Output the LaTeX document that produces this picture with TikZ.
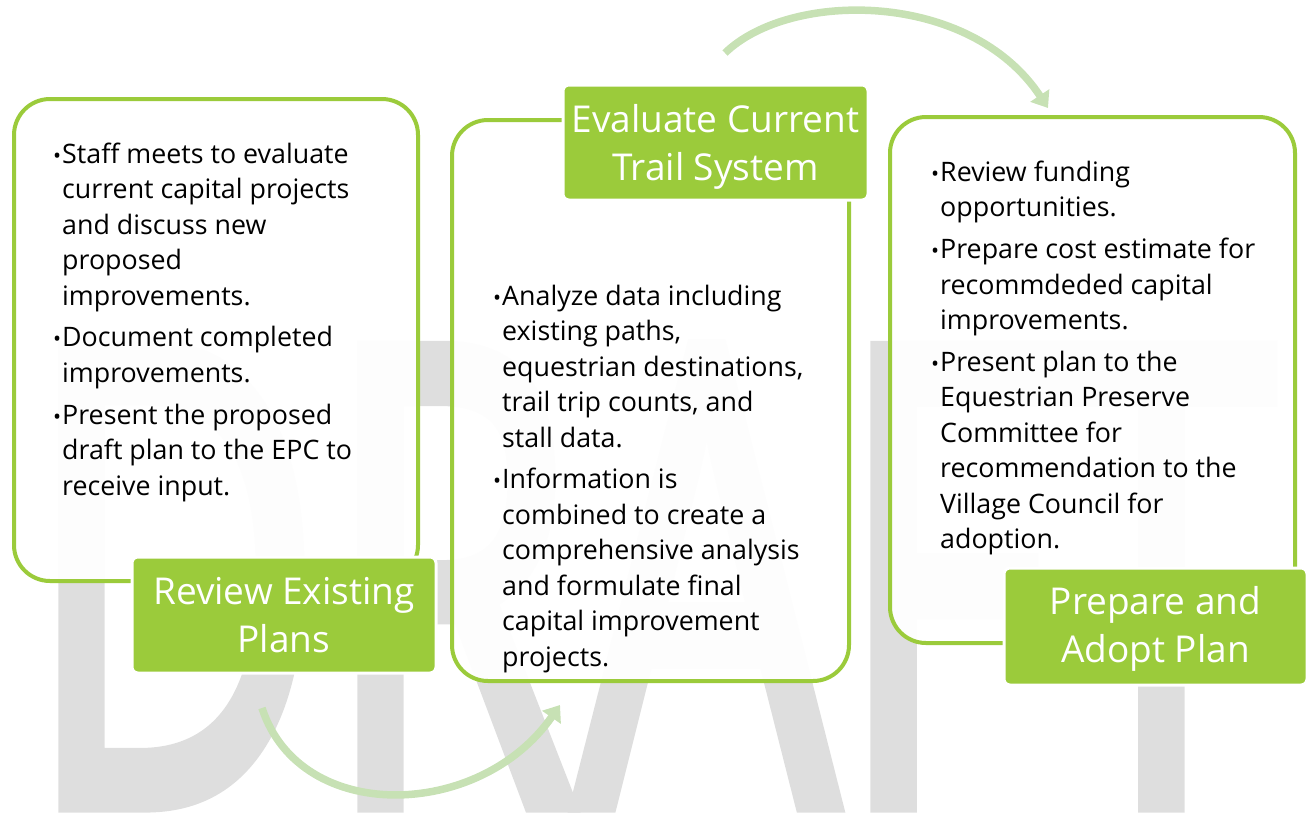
\documentclass[tikz,border=0pt]{standalone}
\usepackage{fontspec}
\setmainfont{Open Sans}
\newfontfamily\wmfont[FakeBold=3]{Open Sans}
\usetikzlibrary{arrows.meta}
\definecolor{boxgreen}{RGB}{155,203,59}
\definecolor{arrowgreen}{RGB}{199,225,180}
\definecolor{wmgray}{RGB}{222,222,222}
\tikzset{
  mainbox/.style={draw=boxgreen, line width=4pt, rounded corners=36pt, fill=white, fill opacity=0.94, draw opacity=1, inner sep=0pt},
  labelbox/.style={draw=white, line width=3pt, fill=boxgreen, rounded corners=6pt, inner sep=0pt},
  labeltext/.style={text=white, align=center, inner sep=0pt, font=\fontsize{37pt}{48pt}\selectfont},
  bodytext/.style={anchor=north west, align=left, inner sep=0pt, text=black,
    font=\fontsize{26.8pt}{35.5pt}\selectfont},
  flowarrow/.style={draw=arrowgreen, line width=7.5pt, -{Triangle[length=15pt,width=22pt]}},
  watermark/.style={text=wmgray, inner sep=0pt, anchor=base west}
}
\newcommand{\bul}{\makebox[0pt][r]{\scalebox{0.8}{•}\hspace{1pt}}}
\newcommand{\topstrut}{\rule{0pt}{25pt}}
\begin{document}
\begin{tikzpicture}[x=1pt,y=-1pt]
\useasboundingbox (0,0) rectangle (1307,815);
% watermark
\node[watermark] (wm) at (24,803) {\scalebox{0.647}[1]{\wmfont\fontsize{634pt}{634pt}\selectfont DRAFT}};
% connectors
\coordinate (a1s) at (262,708);
\coordinate (a1e) at (560,705);
\coordinate (a2s) at (725,53);
\coordinate (a2e) at (1048,108);
\draw[flowarrow] (a1s) .. controls (300,825) and (480,820) .. (a1e);
\draw[flowarrow] (a2s) .. controls (790,-10) and (970,-10) .. (a2e);
% main boxes
\node[mainbox, minimum width=404pt, minimum height=482pt] (b1) at (216,340) {};
\node[mainbox, minimum width=397pt, minimum height=561pt] (b2) at (650.5,400.5) {};
\node[mainbox, minimum width=405pt, minimum height=526pt] (b3) at (1092.5,380) {};
% body texts
\node[bodytext] (t1) at (62,138) {\topstrut\bul Staff meets to evaluate\\
current capital projects\\
and discuss new\\
proposed\\
improvements.\\[6pt]
\bul Document completed\\
improvements.\\[6.5pt]
\bul Present the proposed\\
draft plan to the EPC to\\
receive input.};
\node[bodytext] (t2) at (502,280) {\topstrut\bul Analyze data including\\
existing paths,\\
equestrian destinations,\\
trail trip counts, and\\
stall data.\\[6pt]
\bul Information is\\
combined to create a\\
comprehensive analysis\\
and formulate final\\
capital improvement\\
projects.};
\node[bodytext] (t3) at (940,156) {\topstrut\bul Review funding\\
opportunities.\\[6.5pt]
\bul Prepare cost estimate for\\
recommdeded capital\\
improvements.\\[6pt]
\bul Present plan to the\\
Equestrian Preserve\\
Committee for\\
recommendation to the\\
Village Council for\\
adoption.};
% label boxes
\node[labelbox, minimum width=304pt, minimum height=116pt] (l1) at (284,615) {};
\node[labelbox, minimum width=305pt, minimum height=115pt] (l2) at (715.5,142.5) {};
\node[labelbox, minimum width=303pt, minimum height=117pt] (l3) at (1155.5,626.5) {};
\node[labeltext] (l1t) at ([yshift=0pt]l1.center) {Review Existing\\Plans};
\node[labeltext] (l2t) at ([yshift=-4pt]l2.center) {Evaluate Current\\Trail System};
\node[labeltext] (l3t) at ([yshift=-2.5pt]l3.center) {Prepare and\\Adopt Plan};
\end{tikzpicture}
\end{document}
